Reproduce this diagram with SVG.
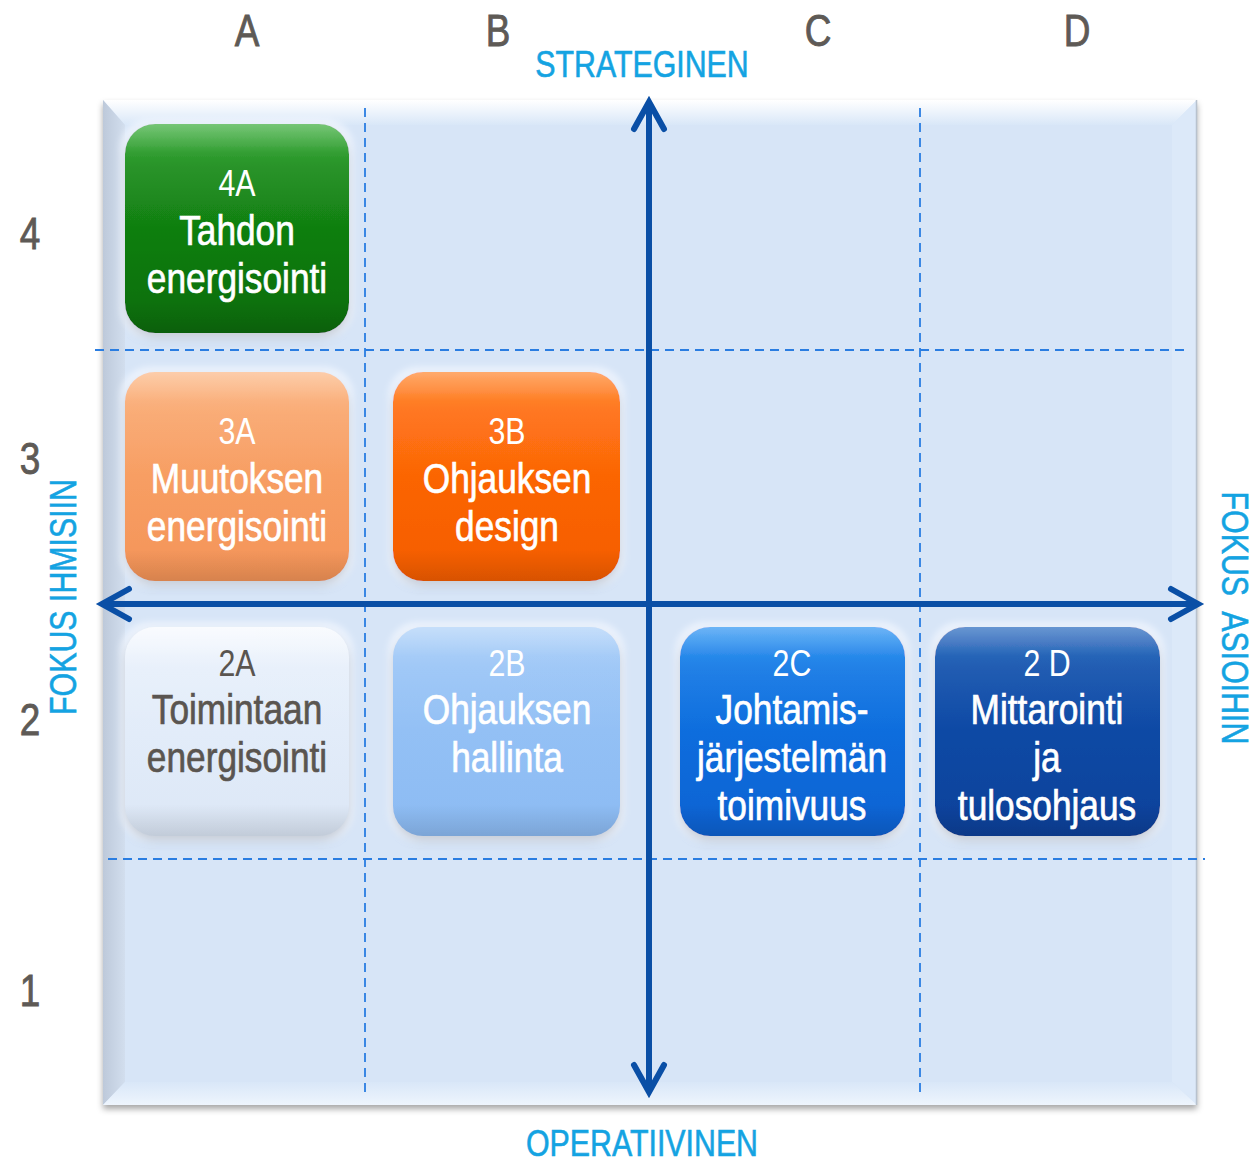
<svg xmlns="http://www.w3.org/2000/svg" width="1257" height="1163" viewBox="0 0 1257 1163">
<defs>
<style>
.lbl{font-family:"Liberation Sans",Arial,sans-serif;fill:#5e5a56;stroke:#5e5a56;stroke-width:0.9;text-anchor:middle;font-size:45px}
.axis{font-family:"Liberation Sans",Arial,sans-serif;fill:#14a3e2;stroke:#14a3e2;stroke-width:0.6;text-anchor:middle;font-size:37px}
.nt{font-family:"Liberation Sans",Arial,sans-serif;text-anchor:middle;font-size:43px;fill:#ffffff;stroke:#ffffff;stroke-width:0.7}
.nc{font-family:"Liberation Sans",Arial,sans-serif;text-anchor:middle;font-size:37px;fill:#ffffff}
.dark{fill:#5a5550;stroke:#5a5550}
.grid{stroke:#2a7de1;stroke-width:1.8;stroke-dasharray:9 6;fill:none}
.ax{stroke:#0a4fa6;stroke-width:6;fill:none;marker-start:url(#chev);marker-end:url(#chev)}
.box{filter:url(#sh)}
.gloss{fill:url(#gl)}
</style>
<marker id="chev" markerUnits="userSpaceOnUse" orient="auto-start-reverse" refX="0" refY="0" markerWidth="40" markerHeight="40" viewBox="-35 -20 40 40" overflow="visible">
<path d="M-27,-15 L0,0 L-27,15" fill="none" stroke="#0a4fa6" stroke-width="6" stroke-linecap="round" stroke-linejoin="miter"/>
</marker>
<filter id="sh" x="-15%" y="-15%" width="130%" height="135%">
<feGaussianBlur in="SourceAlpha" stdDeviation="5" result="b"/>
<feOffset in="b" dy="5" result="o"/>
<feFlood flood-color="#3e4c62" flood-opacity="0.35"/>
<feComposite in2="o" operator="in" result="s"/>
<feMorphology in="SourceAlpha" operator="dilate" radius="5" result="d"/>
<feGaussianBlur in="d" stdDeviation="3" result="db"/>
<feFlood flood-color="#f2f7ff" flood-opacity="0.8"/>
<feComposite in2="db" operator="in" result="g"/>
<feMerge><feMergeNode in="g"/><feMergeNode in="s"/><feMergeNode in="SourceGraphic"/></feMerge>
</filter>
<filter id="psh" x="-5%" y="-5%" width="110%" height="110%">
<feGaussianBlur in="SourceAlpha" stdDeviation="3" result="b"/>
<feOffset in="b" dy="4" result="o"/>
<feFlood flood-color="#000" flood-opacity="0.35"/>
<feComposite in2="o" operator="in" result="s"/>
<feMerge><feMergeNode in="s"/><feMergeNode in="SourceGraphic"/></feMerge>
</filter>
<linearGradient id="gl" x1="0" y1="0" x2="0" y2="1">
<stop offset="0" stop-color="#fff" stop-opacity="0.35"/>
<stop offset="0.14" stop-color="#fff" stop-opacity="0.1"/>
<stop offset="0.5" stop-color="#fff" stop-opacity="0"/>
<stop offset="0.85" stop-color="#000" stop-opacity="0"/>
<stop offset="1" stop-color="#000" stop-opacity="0.12"/>
</linearGradient>
<linearGradient id="gTop" x1="0" y1="0" x2="0" y2="1"><stop offset="0" stop-color="#ffffff"/><stop offset="1" stop-color="#d9e7f8"/></linearGradient>
<linearGradient id="gLeft" x1="0" y1="0" x2="1" y2="0"><stop offset="0" stop-color="#bdc9da"/><stop offset="1" stop-color="#d2deee"/></linearGradient>
<linearGradient id="gBot" x1="0" y1="0" x2="0" y2="1"><stop offset="0" stop-color="#d9e7f8"/><stop offset="1" stop-color="#eef5fd"/></linearGradient>
<linearGradient id="c4A" x1="0" y1="0" x2="0" y2="1"><stop offset="0" stop-color="#2da72d"/><stop offset="0.2" stop-color="#148a14"/><stop offset="1" stop-color="#0b6c0b"/></linearGradient>
<linearGradient id="c3A" x1="0" y1="0" x2="0" y2="1"><stop offset="0" stop-color="#fbb27c"/><stop offset="0.2" stop-color="#f9a46a"/><stop offset="1" stop-color="#f49458"/></linearGradient>
<linearGradient id="c3B" x1="0" y1="0" x2="0" y2="1"><stop offset="0" stop-color="#ff7c1c"/><stop offset="0.2" stop-color="#ff6a08"/><stop offset="1" stop-color="#f55d00"/></linearGradient>
<linearGradient id="c2A" x1="0" y1="0" x2="0" y2="1"><stop offset="0" stop-color="#f6f9fe"/><stop offset="0.2" stop-color="#e6effb"/><stop offset="1" stop-color="#dce7f6"/></linearGradient>
<linearGradient id="c2B" x1="0" y1="0" x2="0" y2="1"><stop offset="0" stop-color="#a7cdf8"/><stop offset="0.2" stop-color="#97c3f6"/><stop offset="1" stop-color="#8cbbf3"/></linearGradient>
<linearGradient id="c2C" x1="0" y1="0" x2="0" y2="1"><stop offset="0" stop-color="#1d8cf1"/><stop offset="0.2" stop-color="#0b74e4"/><stop offset="1" stop-color="#0762d2"/></linearGradient>
<linearGradient id="c2D" x1="0" y1="0" x2="0" y2="1"><stop offset="0" stop-color="#175db9"/><stop offset="0.2" stop-color="#0b4eab"/><stop offset="1" stop-color="#08419a"/></linearGradient>
</defs>
<rect width="1257" height="1163" fill="#ffffff"/>

<g id="panel">
<rect x="103" y="100" width="1094" height="1005" fill="#d7e5f7" filter="url(#psh)"/>
<polygon points="103,100 1197,100 1172,125 125,125" fill="url(#gTop)"/>
<polygon points="103,100 125,125 125,1082 103,1105" fill="url(#gLeft)"/>
<polygon points="1197,100 1197,1105 1172,1082 1172,125" fill="#dce9f9"/>
<polygon points="103,1105 1197,1105 1172,1082 125,1082" fill="url(#gBot)"/>
<line x1="1196.5" y1="100" x2="1196.5" y2="1105" stroke="#b8c2ce" stroke-width="1.5"/>
</g>

<g id="grid">
<line class="grid" x1="365" y1="108" x2="365" y2="1095"/>
<line class="grid" x1="920" y1="108" x2="920" y2="1095"/>
<line class="grid" x1="95" y1="350" x2="1190" y2="350"/>
<line class="grid" x1="108" y1="859" x2="1205" y2="859"/>
</g>

<g id="labels">
<text class="lbl" transform="translate(247,46) scale(0.82,1)">A</text>
<text class="lbl" transform="translate(498,46) scale(0.82,1)">B</text>
<text class="lbl" transform="translate(818,46) scale(0.82,1)">C</text>
<text class="lbl" transform="translate(1077,46) scale(0.82,1)">D</text>
<text class="lbl" transform="translate(30,249) scale(0.82,1)">4</text>
<text class="lbl" transform="translate(30,474) scale(0.82,1)">3</text>
<text class="lbl" transform="translate(30,735) scale(0.82,1)">2</text>
<text class="lbl" transform="translate(30,1006) scale(0.82,1)">1</text>
<text class="axis" transform="translate(642,77) scale(0.82,1)">STRATEGINEN</text>
<text class="axis" transform="translate(642,1156) scale(0.82,1)">OPERATIIVINEN</text>
<text class="axis" transform="translate(76,597) rotate(-90) scale(0.82,1)">FOKUS IHMISIIN</text>
<text class="axis" xml:space="preserve" transform="translate(1222,618) rotate(90) scale(0.82,1)">FOKUS  ASIOIHIN</text>
</g>

<g id="node-4A">
<rect class="box" x="125" y="124" width="224" height="209" rx="30" fill="url(#c4A)"/>
<rect class="gloss" x="125" y="124" width="224" height="209" rx="30"/>
<text class="nc" transform="translate(237,196) scale(0.82,1)">4A</text>
<text class="nt" transform="translate(237,245) scale(0.82,1)">Tahdon</text>
<text class="nt" transform="translate(237,293) scale(0.82,1)">energisointi</text>
</g>

<g id="node-3A">
<rect class="box" x="125" y="372" width="224" height="209" rx="30" fill="url(#c3A)"/>
<rect class="gloss" x="125" y="372" width="224" height="209" rx="30"/>
<text class="nc" transform="translate(237,444) scale(0.82,1)">3A</text>
<text class="nt" transform="translate(237,493) scale(0.82,1)">Muutoksen</text>
<text class="nt" transform="translate(237,541) scale(0.82,1)">energisointi</text>
</g>

<g id="node-3B">
<rect class="box" x="393" y="372" width="227" height="209" rx="30" fill="url(#c3B)"/>
<rect class="gloss" x="393" y="372" width="227" height="209" rx="30"/>
<text class="nc" transform="translate(507,444) scale(0.82,1)">3B</text>
<text class="nt" transform="translate(507,493) scale(0.82,1)">Ohjauksen</text>
<text class="nt" transform="translate(507,541) scale(0.82,1)">design</text>
</g>

<g id="node-2A">
<rect class="box" x="125" y="627" width="224" height="209" rx="30" fill="url(#c2A)"/>
<rect class="gloss" x="125" y="627" width="224" height="209" rx="30"/>
<text class="nc dark" transform="translate(237,676) scale(0.82,1)" stroke-width="0">2A</text>
<text class="nt dark" transform="translate(237,724) scale(0.82,1)">Toimintaan</text>
<text class="nt dark" transform="translate(237,772) scale(0.82,1)">energisointi</text>
</g>

<g id="node-2B">
<rect class="box" x="393" y="627" width="227" height="209" rx="30" fill="url(#c2B)"/>
<rect class="gloss" x="393" y="627" width="227" height="209" rx="30"/>
<text class="nc" transform="translate(507,676) scale(0.82,1)">2B</text>
<text class="nt" transform="translate(507,724) scale(0.82,1)">Ohjauksen</text>
<text class="nt" transform="translate(507,772) scale(0.82,1)">hallinta</text>
</g>

<g id="node-2C">
<rect class="box" x="680" y="627" width="225" height="209" rx="30" fill="url(#c2C)"/>
<rect class="gloss" x="680" y="627" width="225" height="209" rx="30"/>
<text class="nc" transform="translate(792,676) scale(0.82,1)">2C</text>
<text class="nt" transform="translate(792,724) scale(0.82,1)">Johtamis-</text>
<text class="nt" transform="translate(792,772) scale(0.82,1)">järjestelmän</text>
<text class="nt" transform="translate(792,820) scale(0.82,1)">toimivuus</text>
</g>

<g id="node-2D">
<rect class="box" x="935" y="627" width="225" height="209" rx="30" fill="url(#c2D)"/>
<rect class="gloss" x="935" y="627" width="225" height="209" rx="30"/>
<text class="nc" transform="translate(1047,676) scale(0.82,1)">2 D</text>
<text class="nt" transform="translate(1047,724) scale(0.82,1)">Mittarointi</text>
<text class="nt" transform="translate(1047,772) scale(0.82,1)">ja</text>
<text class="nt" transform="translate(1047,820) scale(0.82,1)">tulosohjaus</text>
</g>

<g id="connectors">
<line class="ax" x1="649" y1="102" x2="649" y2="1092"/>
<line class="ax" x1="102" y1="604" x2="1198" y2="604"/>
</g>
</svg>
